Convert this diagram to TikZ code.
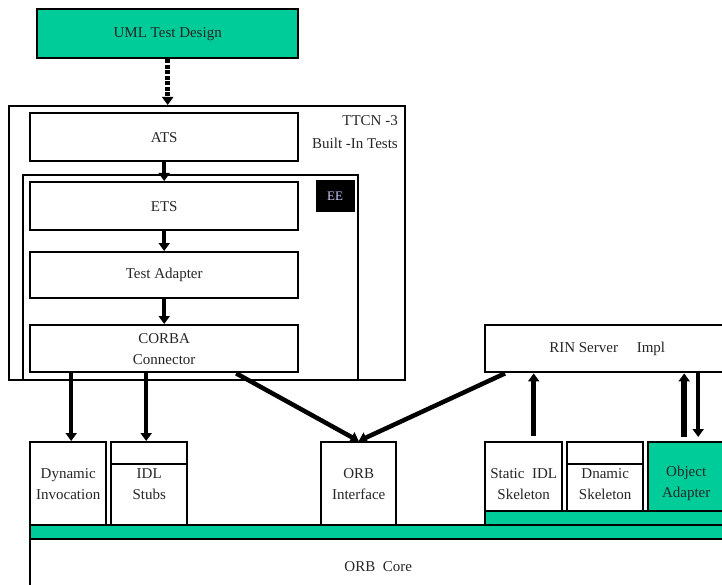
\documentclass[tikz,border=0pt]{standalone}
\usepackage{fontspec}
\setmainfont{Liberation Serif}
\usepackage{tikz}
\usetikzlibrary{positioning, arrows.meta, calc}
\definecolor{orbgreen}{RGB}{0,204,153}
\definecolor{eetext}{RGB}{204,204,255}

\begin{document}
\begin{tikzpicture}[
    x=1pt, y=-1pt,
    box/.style={
        rectangle,
        draw=black,
        line width=2.4pt,
        fill=white,
        anchor=north west,
        inner sep=0pt,
        align=center,
        text=black!85,
        font=\fontsize{15}{21}\selectfont,
    },
    gbox/.style={box, fill=orbgreen},
    flow/.style={-{Triangle[length=8pt,width=11pt]}, line width=4.5pt},
    dotflow/.style={flow, dash pattern=on 4pt off 1.5pt},
]
\useasboundingbox (0,0) rectangle (722,585);
\clip (0,0) rectangle (722,585);

% test system
\node[gbox, minimum width=261pt, minimum height=49pt] (uml) at (36,8) {UML Test Design};
\node[box, minimum width=396pt, minimum height=274pt] (ttcn) at (8,105) {};
\node[anchor=north east, align=right, inner sep=0pt, text=black!85,
      font=\fontsize{15}{23}\selectfont] (ttcnLbl) at (398,115) {TTCN -3\\Built -In Tests};
\node[box, minimum width=268pt, minimum height=48pt] (ats) at (29,112) {ATS};
\node[box, minimum width=335pt, minimum height=205pt] (ee) at (22,174) {};
\node[box, fill=black, draw=black, line width=0pt, text=eetext, minimum width=38pt,
      minimum height=31pt, font=\fontsize{13}{15}\selectfont] (eeTag) at (316,181) {EE};
\node[box, minimum width=268pt, minimum height=48pt] (ets) at (29,181) {ETS};
\node[box, minimum width=268pt, minimum height=46pt] (adapter) at (29,251) {Test Adapter};
\node[box, minimum width=268pt, minimum height=47pt] (corba) at (29,324) {CORBA\\Connector};

% server side
\node[box, minimum width=244pt, minimum height=47pt] (rin) at (484,324) {RIN Server \quad Impl};

% ORB
\node[box, minimum width=76pt, minimum height=83pt] (dyn) at (29,441) {Dynamic\\Invocation};
\node[box, minimum width=76pt, minimum height=83pt] (stubs) at (110,441) {IDL\\Stubs};
\node[box, minimum width=76pt, minimum height=22pt] (stubsTop) at (110,441) {};
\node[box, minimum width=75pt, minimum height=83pt] (orbIf) at (320,441) {ORB\\Interface};
\node[box, minimum width=77pt, minimum height=83pt] (skel) at (484,441) {Static \ IDL\\Skeleton};
\node[box, minimum width=76pt, minimum height=83pt] (dskel) at (566,441) {Dnamic\\Skeleton};
\node[box, minimum width=76pt, minimum height=22pt] (dskelTop) at (566,441) {};
\node[gbox, minimum width=76pt, minimum height=83pt] (objAd) at (647,441) {Object\\Adapter};
\node[gbox, minimum width=244pt, minimum height=14pt] (skelBar) at (484,510) {};
\node[gbox, minimum width=700pt, minimum height=14pt] (orbBar) at (29,524) {};
\node[box, minimum width=696pt, minimum height=54pt] (orbCore) at (29,538) {ORB \ Core};

% connectors
\draw[dotflow] (uml.south) -- (uml.south |- ttcn.north);
\draw[flow] (ats.south) -- (ets.north);
\draw[flow] (ets.south) -- (adapter.north);
\draw[flow] (adapter.south) -- (corba.north);
\draw[flow] ([xshift=3pt]corba.south -| dyn.north) -- ([xshift=3pt]dyn.north);
\draw[flow] ([xshift=-3pt]corba.south -| stubs.north) -- ([xshift=-3pt]stubs.north);
\draw[flow] ([xshift=72pt]corba.south) -- (orbIf.north);
\draw[flow] ([xshift=21pt]rin.south west) -- (orbIf.north);
\draw[flow] ([xshift=10pt,yshift=5pt]skel.north) -- ([xshift=10pt]skel.north |- rin.south);
\draw[flow, line width=6pt] ([xshift=-2pt,yshift=4pt]objAd.north) -- ([xshift=-2pt]objAd.north |- rin.south);
\draw[flow] ([xshift=12pt]objAd.north |- rin.south) -- ([xshift=12pt,yshift=4pt]objAd.north);
\end{tikzpicture}
\end{document}
